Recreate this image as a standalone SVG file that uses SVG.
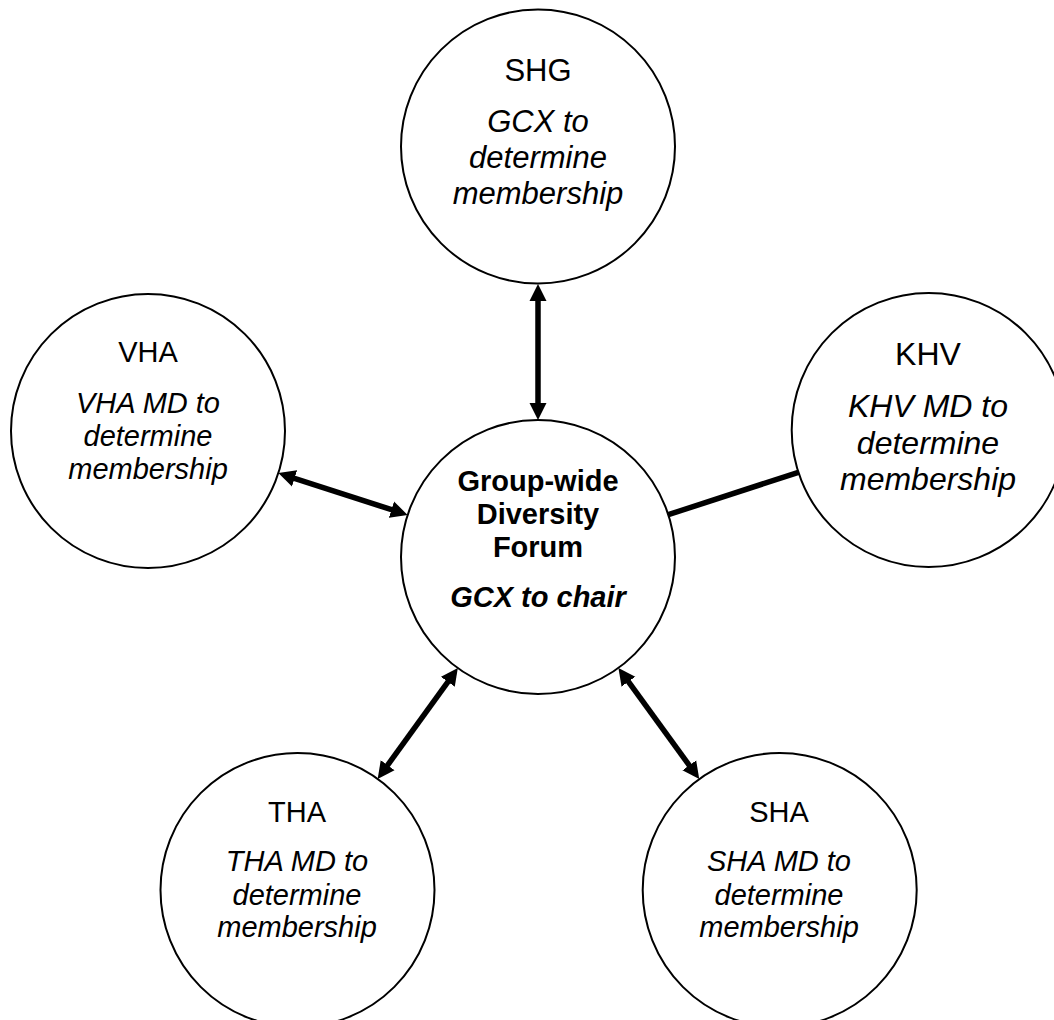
<svg xmlns="http://www.w3.org/2000/svg" width="1054" height="1020" viewBox="0 0 1054 1020">
  <style>
    .node circle { fill: #ffffff; stroke: #000000; stroke-width: 2; }
    text { font-family: "Liberation Sans", Arial, sans-serif; fill: #000000; text-anchor: middle; }
    .t29 { font-size: 29px; }
    .t31 { font-size: 31px; }
    .t32 { font-size: 32px; }
    .it { font-style: italic; }
    .b { font-weight: bold; font-size: 29px; }
    .conn line { stroke: #000000; stroke-width: 5.5; fill: none; }
  </style>
  <defs>
    <marker id="ah" markerUnits="userSpaceOnUse" markerWidth="18" markerHeight="18" refX="5" refY="8.5" orient="auto-start-reverse" viewBox="0 0 18 17">
      <path d="M0,0 L17,8.5 L0,17 Z" fill="#000000"/>
    </marker>
  </defs>
  <rect x="0" y="0" width="1054" height="1020" fill="#ffffff"/>

  <g id="connectors" class="conn">
    <line x1="538" y1="296" x2="538" y2="408" marker-start="url(#ah)" marker-end="url(#ah)"/>
    <line x1="289.8" y1="476.8" x2="396.2" y2="511.2" marker-start="url(#ah)" marker-end="url(#ah)"/>
    <line x1="668.3" y1="514.7" x2="798.4" y2="472.3"/>
    <line x1="450.8" y1="677.8" x2="384.7" y2="769.2" marker-start="url(#ah)" marker-end="url(#ah)"/>
    <line x1="625.5" y1="677.6" x2="692.2" y2="769.4" marker-start="url(#ah)" marker-end="url(#ah)"/>
  </g>

  <g id="node-shg" class="node">
    <circle cx="538" cy="146.5" r="137"/>
    <text class="t31" x="538" y="81">SHG</text>
    <text class="t31 it" x="538" y="132">GCX to</text>
    <text class="t31 it" x="538" y="168">determine</text>
    <text class="t31 it" x="538" y="204">membership</text>
  </g>

  <g id="node-vha" class="node">
    <circle cx="148" cy="431" r="137"/>
    <text class="t29" x="148" y="362">VHA</text>
    <text class="t29 it" x="148" y="412.5">VHA MD to</text>
    <text class="t29 it" x="148" y="446">determine</text>
    <text class="t29 it" x="148" y="479">membership</text>
  </g>

  <g id="node-khv" class="node">
    <circle cx="928.7" cy="430" r="137"/>
    <text class="t32" x="928" y="365">KHV</text>
    <text class="t32 it" x="928" y="417">KHV MD to</text>
    <text class="t32 it" x="928" y="454">determine</text>
    <text class="t32 it" x="928" y="490">membership</text>
  </g>

  <g id="node-center" class="node">
    <circle cx="538" cy="557" r="137"/>
    <text class="b" x="538" y="491">Group-wide</text>
    <text class="b" x="538" y="524">Diversity</text>
    <text class="b" x="538" y="557">Forum</text>
    <text class="b it" x="538" y="607">GCX to chair</text>
  </g>

  <g id="node-tha" class="node">
    <circle cx="297.5" cy="890" r="137"/>
    <text class="t29" x="297" y="822">THA</text>
    <text class="t29 it" x="297" y="870.5">THA MD to</text>
    <text class="t29 it" x="297" y="905">determine</text>
    <text class="t29 it" x="297" y="937">membership</text>
  </g>

  <g id="node-sha" class="node">
    <circle cx="779.7" cy="890" r="137"/>
    <text class="t29" x="779" y="822">SHA</text>
    <text class="t29 it" x="779" y="870.5">SHA MD to</text>
    <text class="t29 it" x="779" y="905">determine</text>
    <text class="t29 it" x="779" y="937">membership</text>
  </g>
</svg>
